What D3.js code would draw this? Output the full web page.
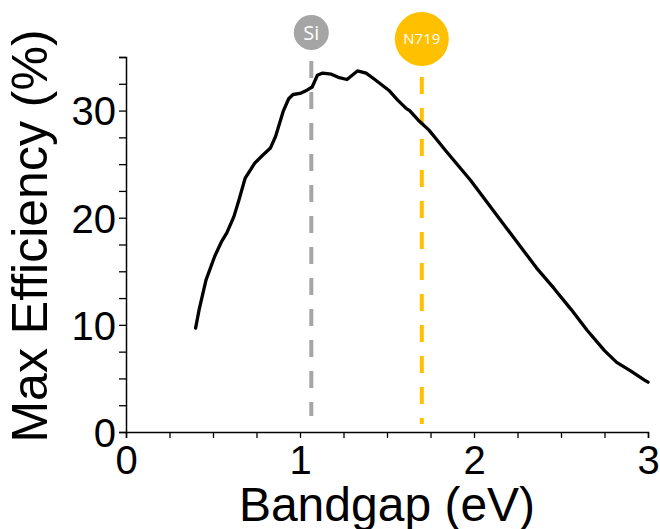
<!DOCTYPE html>
<html>
<head>
<meta charset="utf-8">
<script src="https://cdn.jsdelivr.net/npm/d3@7"></script>
<style>
  html, body { margin: 0; padding: 0; background: #fff; }
  svg { display: block; }
</style>
</head>
<body>
<svg id="chart" width="660" height="529"></svg>
<script>
// Detailed-balance efficiency limit versus absorber bandgap
const bandgap = [0.40, 0.42, 0.46, 0.51, 0.55, 0.58, 0.62, 0.65, 0.685, 0.74, 0.79, 0.83, 0.86, 0.905, 0.935, 0.96, 1.00, 1.04, 1.07, 1.10, 1.13, 1.18, 1.22, 1.27, 1.30, 1.33, 1.38, 1.43, 1.51, 1.56, 1.61, 1.63, 1.68, 1.74, 1.79, 1.84, 1.98, 2.17, 2.36, 2.46, 2.56, 2.65, 2.75, 2.82, 2.90, 2.98, 3.00];
const efficiency = [9.7, 11.4, 14.2, 16.4, 17.8, 18.6, 20.1, 21.7, 23.7, 25.1, 25.9, 26.5, 27.6, 30.0, 31.1, 31.5, 31.6, 31.9, 32.2, 33.3, 33.5, 33.4, 33.1, 32.9, 33.3, 33.7, 33.5, 32.9, 31.9, 31.0, 30.2, 30.0, 29.1, 28.2, 27.2, 26.2, 23.5, 19.4, 15.3, 13.4, 11.4, 9.5, 7.6, 6.5, 5.7, 4.85, 4.65];

// Reference materials marked on the curve
const materialNames = ["Si", "N719"];
const materialGaps = [1.065, 1.70];
const materialColors = ["#A5A5A5", "#FFC000"];

const xTicks = [0, 1, 2, 3];
const yTicks = [0, 10, 20, 30];
const xDomain = [0, 3];
const yDomain = [0, 35];

const svg = d3.select("#chart");
const margin = { left: 126, right: 12, top: 57, bottom: 97 };
const W = 660, H = 529;

const x = d3.scaleLinear().domain(xDomain).range([margin.left, W - margin.right]);
const y = d3.scaleLinear().domain(yDomain).range([H - margin.bottom, margin.top]);

const tickFont = "Liberation Sans, Arial, sans-serif";

// X axis: major labels every 1 eV, minor ticks every 0.25 eV
const xAxis = d3.axisBottom(x)
  .tickValues(d3.range(0, 3.0001, 0.25))
  .tickSize(6)
  .tickPadding(8)
  .tickFormat(d => xTicks.includes(d) ? d3.format("d")(d) : "");
const gx = svg.append("g")
  .attr("transform", `translate(0,${y(0)})`)
  .call(xAxis);

// Y axis: major labels every 10 %, minor ticks every 2.5 %
const yAxis = d3.axisLeft(y)
  .tickValues(d3.range(0, 35.0001, 2.5))
  .tickSize(7)
  .tickPadding(3)
  .tickFormat(d => yTicks.includes(d) ? d3.format("d")(d) : "");
const gy = svg.append("g")
  .attr("transform", `translate(${x(0)},0)`)
  .call(yAxis);

[gx, gy].forEach(g => {
  g.select(".domain").attr("stroke", "#000").attr("stroke-width", 1.5);
  g.selectAll(".tick line").attr("stroke", "#000").attr("stroke-width", 1.3);
  g.selectAll(".tick text")
    .attr("fill", "#000")
    .style("font-family", tickFont)
    .style("font-size", "40px");
});
gx.selectAll(".tick text").attr("dy", "0.71em");
gy.selectAll(".tick text").attr("dy", "0.36em");

// Vertical dashed markers with their circular labels
const circleR = [17.5, 27];
const circleCy = [32.5, 39];
const textSize = [20, 15];
materialNames.forEach((name, i) => {
  const cx = x(materialGaps[i]);
  svg.append("line")
    .attr("x1", cx).attr("x2", cx)
    .attr("y1", circleCy[i] + circleR[i] + 11)
    .attr("y2", i === 0 ? y(1.5) : y(0.75))
    .attr("stroke", materialColors[i])
    .attr("stroke-width", 4)
    .attr("stroke-dasharray", "17,14");
  svg.append("circle")
    .attr("cx", cx).attr("cy", circleCy[i])
    .attr("r", circleR[i])
    .attr("fill", materialColors[i]);
  svg.append("text")
    .attr("x", cx).attr("y", circleCy[i])
    .attr("dy", "0.35em")
    .attr("text-anchor", "middle")
    .attr("fill", "#fff")
    .style("font-family", "Open Sans, sans-serif")
    .style("font-size", textSize[i] + "px")
    .text(name);
});

// Efficiency curve
const line = d3.line()
  .x((d, i) => x(bandgap[i]))
  .y(d => y(d));
svg.append("path")
  .datum(efficiency)
  .attr("fill", "none")
  .attr("stroke", "#000")
  .attr("stroke-width", 3.3)
  .attr("stroke-linejoin", "round")
  .attr("stroke-linecap", "round")
  .attr("d", line);

// Axis titles
svg.append("text")
  .attr("x", 387)
  .attr("y", 521)
  .attr("text-anchor", "middle")
  .attr("fill", "#000")
  .style("font-family", tickFont)
  .style("font-size", "48px")
  .text("Bandgap (eV)");

svg.append("text")
  .attr("transform", `translate(47,236) rotate(-90)`)
  .attr("text-anchor", "middle")
  .attr("fill", "#000")
  .style("font-family", tickFont)
  .style("font-size", "50px")
  .text("Max Efficiency (%)");
</script>
</body>
</html>
